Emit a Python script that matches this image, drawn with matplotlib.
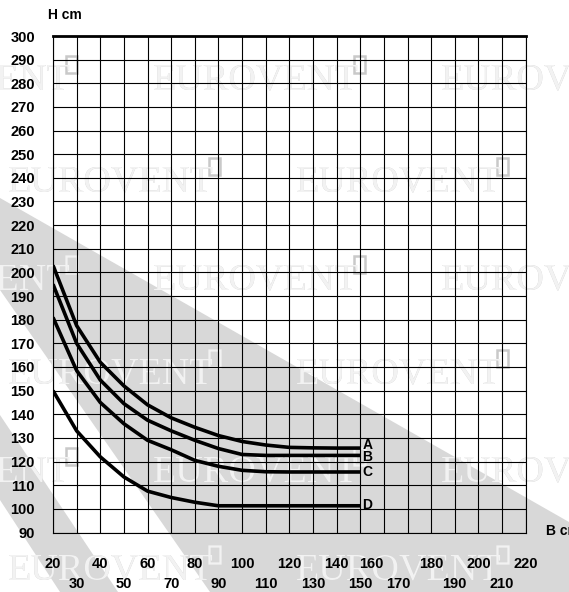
import numpy as np
import matplotlib.pyplot as plt
from matplotlib.patches import Polygon, Rectangle
from matplotlib.path import Path
from matplotlib.transforms import ScaledTranslation

plt.rcParams['font.family'] = ['Liberation Sans', 'DejaVu Sans']

# curve data (B cm -> H cm)
B_cm = [20, 30, 40, 50, 60, 70, 80, 90, 100, 110, 120, 130, 140, 150]
H_A = [203, 177.5, 162, 152, 144, 138.5, 134.5, 131, 128.5, 127, 126, 125.8, 125.7, 125.7]
H_B = [195, 170, 154.5, 144.5, 137.5, 133, 129, 125.5, 123, 122.6, 122.6, 122.6, 122.6, 122.6]
H_C = [181, 158.5, 145, 136, 129, 125, 120.5, 118, 116.3, 115.7, 115.6, 115.6, 115.6, 115.6]
H_D = [150, 133, 122, 113.5, 107.5, 104.8, 102.8, 101.3, 101.3, 101.3, 101.3, 101.3, 101.3, 101.3]
curve_names = ['A', 'B', 'C', 'D']

x_row1 = list(range(20, 221, 20))
x_row2 = list(range(30, 211, 20))
y_ticks = list(range(90, 301, 10))

W, H = 569, 592
fig = plt.figure(figsize=(W / 100, H / 100), dpi=100)

# background: gray diagonal bands + EUROVENT watermark (pixel coords)
bg = fig.add_axes([0, 0, 1, 1], zorder=0)
bg.set_xlim(0, W)
bg.set_ylim(H, 0)
bg.axis('off')

bands = [
    [(0, 198), (569, 522), (569, 592), (210, 592), (0, 290)],
    [(0, 415), (118, 592), (60, 592), (0, 500)],
]
gray = '#d8d8d8'
for b in bands:
    bg.add_patch(Polygon(b, closed=True, facecolor=gray, edgecolor='none', zorder=0))
clip = Path.make_compound_path(*[Path(b + [b[0]], closed=True) for b in bands])

rows = [(-12, [8, 296]), (80, [-135, 153, 441]), (182, [8, 296]),
        (280, [-135, 153, 441]), (374, [8, 296]), (472, [-135, 153, 441]),
        (570, [8, 296])]
for yc, xs in rows:
    for x0 in xs:
        for col, clipped in (('#c9c9c9', False), ('#f2f2f2', True)):
            t = bg.text(x0, yc, 'EUROVENT', fontsize=27.5, family='Liberation Serif',
                        color=col, ha='left', va='center', zorder=1)
            r = Rectangle((x0 + 201, yc - 24), 11, 17, facecolor='none',
                          edgecolor=col, lw=1.8, zorder=1)
            bg.add_patch(r)
            if clipped:
                t.set_clip_path(clip, bg.transData)
                r.set_clip_path(clip, bg.transData)

# main chart
ax = fig.add_axes([53 / W, 1 - 532.5 / H, (525.7 - 53) / W, (532.5 - 36) / H], zorder=1)
ax.set_facecolor('none')
ax.set_xlim(20, 220)
ax.set_ylim(90, 300)

for hs in (H_A, H_B, H_C, H_D):
    ax.plot(B_cm, hs, color='black', lw=2.6, solid_capstyle='butt', solid_joinstyle='round', zorder=3)

offsets = [1.1, -0.85, 0, 0.5]
for name, hs, dy in zip(curve_names, (H_A, H_B, H_C, H_D), offsets):
    ax.text(B_cm[-1] + 1, hs[-1] + dy, name, ha='left', va='center',
            fontsize=10, fontweight='bold', zorder=4)

ax.set_xticks(x_row1)
ax.set_xticklabels([str(v) for v in x_row1])
ax.set_xticks(x_row2, minor=True)
ax.set_xticklabels([str(v) for v in x_row2], minor=True)
ax.set_yticks(y_ticks)
ax.set_yticklabels([str(v) for v in y_ticks])
ax.tick_params(axis='x', which='major', length=0, pad=17.5, labelsize=10.5)
ax.tick_params(axis='x', which='minor', length=0, pad=32, labelsize=10.5)
ax.tick_params(axis='y', length=0, pad=13, labelsize=10.5)
for lab in ax.get_xticklabels(which='both') + ax.get_yticklabels():
    lab.set_fontweight('bold')

ax.grid(True, which='both', color='black', lw=0.8)
ax.set_axisbelow(True)
for s in ax.spines.values():
    s.set_color('black')
    s.set_linewidth(0.8)
ax.spines['top'].set_linewidth(2)

fig.text(48 / W, 1 - 15 / H, 'H cm', ha='left', va='center', fontsize=10, fontweight='bold')
fig.text(546 / W, 1 - 531 / H, 'B cm', ha='left', va='center', fontsize=10, fontweight='bold')

# the 160 and 170 labels sit a little to the left in the original
for lab in ax.get_xticklabels(which='both'):
    if lab.get_text() == '160':
        lab.set_transform(lab.get_transform() + ScaledTranslation(-0.13, 0, fig.dpi_scale_trans))
    if lab.get_text() == '170':
        lab.set_transform(lab.get_transform() + ScaledTranslation(-0.09, 0, fig.dpi_scale_trans))

fig.savefig('out.png', dpi=100)
